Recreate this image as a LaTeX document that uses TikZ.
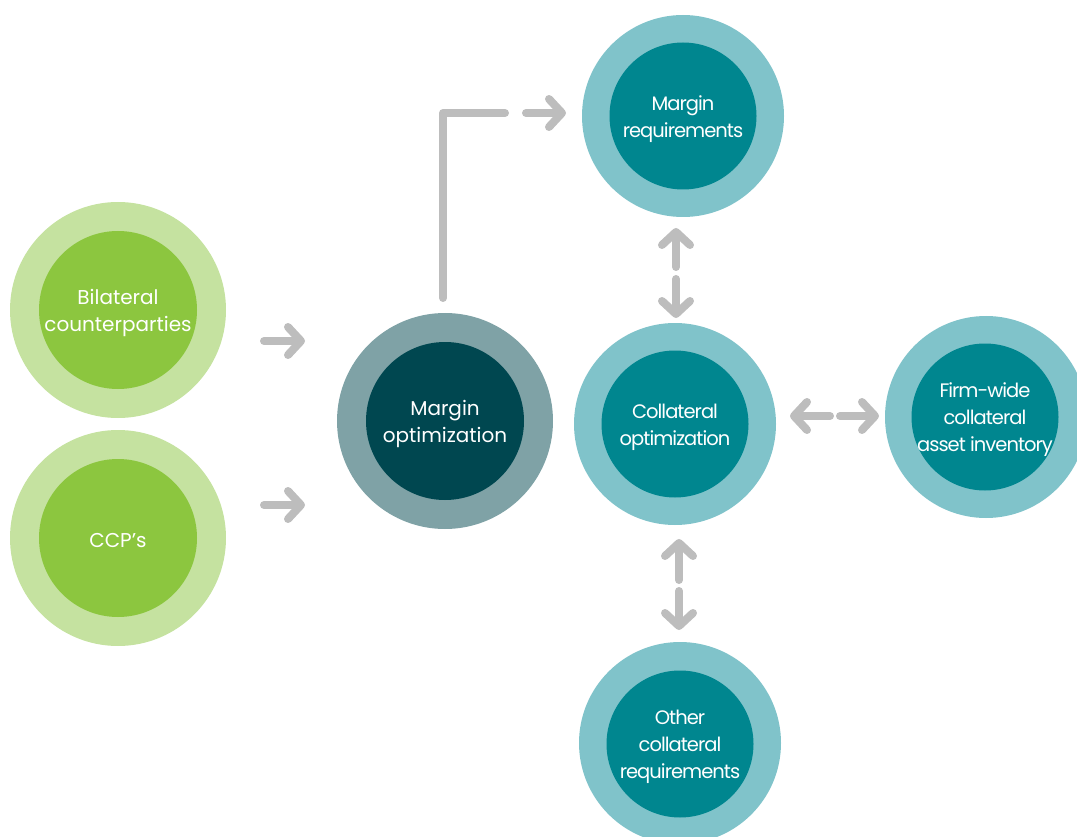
\documentclass[tikz,border=0pt]{standalone}
\usepackage{fontspec}
\setmainfont{Poppins}
\newfontfamily\tightfont[LetterSpace=-5]{Poppins}
\usetikzlibrary{arrows.meta}
\definecolor{lgreen}{HTML}{C5E2A0}
\definecolor{dgreen}{HTML}{8CC63F}
\definecolor{greyteal}{HTML}{7FA2A6}
\definecolor{darkteal}{HTML}{004750}
\definecolor{lteal}{HTML}{80C3CA}
\definecolor{teal2}{HTML}{00868F}
\definecolor{arrgray}{HTML}{BDBDBD}
\begin{document}
\begin{tikzpicture}[x=1pt,y=-1pt,
  outerc/.style={circle, inner sep=0pt, minimum size=#1},
  innerc/.style={circle, inner sep=0pt, minimum size=#1},
  txt/.style={text=white, align=center, inner sep=0pt, yshift=-3pt,
    font=\fontsize{20}{27}\selectfont},
  ttxt/.style={txt, font=\tightfont\fontsize{19.5}{27}\selectfont},
  conn/.style={draw=arrgray, line width=8pt, line cap=round, line join=round},
  arr/.style={conn, -{Straight Barb[length=13pt,width=28pt,round]}}
]
\useasboundingbox (0,0) rectangle (1077,837);
% left green circles
\node[outerc=216pt, fill=lgreen] (bilo) at (118,310) {};
\node[innerc=158pt, fill=dgreen, label={[txt]center:Bilateral\\counterparties}] (bil) at (118,310) {};
\node[outerc=216pt, fill=lgreen] (ccpo) at (118,538) {};
\node[innerc=158pt, fill=dgreen, label={[txt]center:CCP’s}] (ccp) at (118,538) {};
% margin optimization
\node[outerc=216pt, fill=greyteal] (mopo) at (445,421) {};
\node[innerc=158pt, fill=darkteal, label={[txt]center:Margin\\optimization}] (mop) at (445,421) {};
% teal circles
\node[outerc=202pt, fill=lteal] (mreqo) at (683,116) {};
\node[innerc=147pt, fill=teal2, label={[ttxt]center:Margin\\requirements}] (mreq) at (683,116) {};
\node[outerc=202pt, fill=lteal] (colo) at (675,424) {};
\node[innerc=147pt, fill=teal2, label={[ttxt]center:Collateral\\optimization}] (col) at (675,424) {};
\node[outerc=202pt, fill=lteal] (firmo) at (986,417) {};
\node[innerc=147pt, fill=teal2, label={[ttxt]center:Firm-wide\\collateral\\asset inventory}] (firm) at (985,417) {};
\node[outerc=202pt, fill=lteal] (otho) at (680,743) {};
\node[innerc=147pt, fill=teal2, label={[ttxt]center:Other\\collateral\\requirements}] (oth) at (680,744) {};
% arrow end points
\coordinate (a1s) at (264,341); \coordinate (a1e) at (305,341);
\coordinate (a2s) at (264,505); \coordinate (a2e) at (305,505);
\coordinate (lb) at (443,298); \coordinate (lc) at (443,113); \coordinate (le) at (505,113);
\coordinate (a3s) at (526,113); \coordinate (a3e) at (566,113);
\coordinate (u1s) at (676,267); \coordinate (u1e) at (676,228);
\coordinate (d1s) at (676,279); \coordinate (d1e) at (676,318);
\coordinate (l1s) at (830,416); \coordinate (l1e) at (790,416);
\coordinate (r1s) at (840,416); \coordinate (r1e) at (879,416);
\coordinate (u2s) at (679,580); \coordinate (u2e) at (679,539);
\coordinate (d2s) at (679,591); \coordinate (d2e) at (679,630);
% connectors
\draw[arr] (a1s) -- (a1e);
\draw[arr] (a2s) -- (a2e);
\draw[conn] (lb) -- (lc) -- (le);
\draw[arr] (a3s) -- (a3e);
\draw[arr] (u1s) -- (u1e);
\draw[arr] (d1s) -- (d1e);
\draw[arr] (l1s) -- (l1e);
\draw[arr] (r1s) -- (r1e);
\draw[arr] (u2s) -- (u2e);
\draw[arr] (d2s) -- (d2e);
\end{tikzpicture}
\end{document}
